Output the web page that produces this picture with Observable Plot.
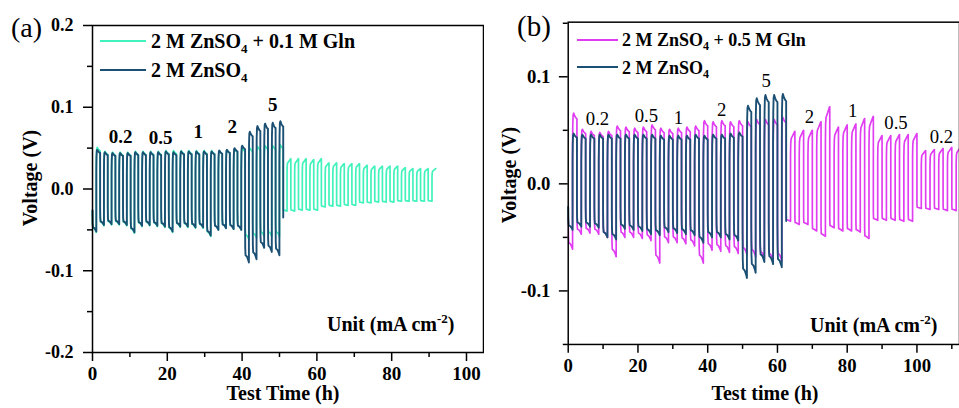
<!DOCTYPE html>
<html><head><meta charset="utf-8">
<script src="https://cdn.jsdelivr.net/npm/d3@7"></script>
<script src="https://cdn.jsdelivr.net/npm/@observablehq/plot@0.6"></script>
<style>
html,body{margin:0;padding:0;background:#fff;overflow:hidden}
#wrap{position:relative;width:959px;height:408px;overflow:hidden;background:#fff}
#pa,#pb,#ov{position:absolute;top:0}
#pa{left:0}#pb{left:480px}#ov{left:0;pointer-events:none}
</style></head><body>
<div id="wrap"><div id="pa"></div><div id="pb"></div><svg id="ov" width="959" height="408"></svg></div>
<script>
const FONT = "Liberation Serif";
const GREEN = "#42f2bc", BLUE = "#1b4f74", MAGENTA = "#e03cf2";

// cycle period (h): half plating, half stripping
const PERIOD_A = 2.04, PERIOD_B = 2.5;

// Panel (a): per-cycle peak (hi) and trough (lo) voltages, V
const blueA_hi = [0.048,0.045,0.044,0.044,0.044, 0.045,0.045,0.045,0.045,0.046, 0.045,0.046,0.046,0.046,0.046, 0.046,0.047,0.048,0.050,0.053, 0.070,0.077,0.080,0.081,0.083];
const blueA_lo = [-0.052,-0.044,-0.043,-0.043,-0.044, -0.053,-0.045,-0.044,-0.045,-0.046, -0.052,-0.046,-0.046,-0.047,-0.047, -0.057,-0.050,-0.048,-0.049,-0.050, -0.090,-0.086,-0.072,-0.077,-0.081, -0.058];
const greenA_hi = [0.051,0.046,0.045,0.045,0.045, 0.046,0.046,0.046,0.046,0.047, 0.047,0.047,0.047,0.047,0.047, 0.047,0.047,0.048,0.049,0.050, 0.050,0.052,0.053,0.053,0.054, 0.037,0.037,0.037,0.036,0.037, 0.032,0.032,0.031,0.031,0.031, 0.029,0.028,0.028,0.028,0.028, 0.026,0.025,0.025,0.025,0.025];
const greenA_lo = [-0.053,-0.045,-0.044,-0.044,-0.045, -0.054,-0.046,-0.045,-0.046,-0.047, -0.053,-0.047,-0.047,-0.048,-0.048, -0.058,-0.050,-0.048,-0.049,-0.050, -0.062,-0.060,-0.058,-0.058,-0.058, -0.027,-0.027,-0.026,-0.026,-0.026, -0.022,-0.021,-0.021,-0.020,-0.020, -0.017,-0.017,-0.016,-0.016,-0.016, -0.015,-0.015,-0.015,-0.015,-0.015];

// Panel (b)
const blueB_hi = [0.047,0.046,0.046,0.046,0.046, 0.046,0.046,0.046,0.046,0.046, 0.045,0.045,0.045,0.045,0.046, 0.045,0.046,0.046,0.047,0.048, 0.073,0.080,0.083,0.083,0.084];
const blueB_lo = [-0.043,-0.040,-0.040,-0.041,-0.050, -0.052,-0.042,-0.043,-0.044,-0.047, -0.048,-0.045,-0.046,-0.047,-0.048, -0.055,-0.050,-0.050,-0.052,-0.053, -0.088,-0.083,-0.073,-0.075,-0.078, -0.058];
const magB_hi = [0.066,0.051,0.049,0.048,0.049, 0.054,0.053,0.052,0.053,0.055, 0.052,0.051,0.052,0.053,0.054, 0.059,0.058,0.059,0.058,0.059, 0.058,0.060,0.060,0.060,0.062, 0.049,0.050,0.050,0.058,0.072, 0.053,0.055,0.056,0.061,0.063, 0.045,0.045,0.046,0.046,0.047, 0.031,0.032,0.033,0.034,0.034];
const magB_lo = [-0.061,-0.047,-0.046,-0.047,-0.050, -0.068,-0.050,-0.050,-0.051,-0.053, -0.074,-0.055,-0.055,-0.056,-0.058, -0.074,-0.062,-0.063,-0.064,-0.065, -0.066,-0.068,-0.070,-0.072,-0.072, -0.035,-0.038,-0.038,-0.044,-0.049, -0.041,-0.044,-0.044,-0.045,-0.051, -0.034,-0.034,-0.034,-0.035,-0.035, -0.023,-0.024,-0.024,-0.025,-0.025];

// half-cycle profile shapes: [fraction of half, fraction of extreme]
const SHAPE_EARLY_POS = [[0,0.45],[0.04,0.8],[0.12,0.97],[0.25,1],[0.5,0.96],[0.8,0.93],[1,0.92]];
const SHAPE_EARLY_NEG = [[0,0.5],[0.04,0.8],[0.12,0.9],[0.5,0.92],[0.85,0.97],[1,1]];
const SHAPE_LATE_POS = [[0,0.55],[0.05,0.78],[0.15,0.86],[0.5,0.92],[0.9,0.99],[1,1]];
const SHAPE_LATE_NEG = [[0,0.8],[0.05,0.95],[0.5,0.97],[1,1]];

// annotations (current density, mA cm-2)
const annA_label = ["0.2","0.5","1","2","5"];
const annA_x = [7.5,18.2,28.3,37.4,48.2];
const annA_y = [0.056,0.055,0.062,0.068,0.096];
const annB_label = ["0.2","0.5","1","2","5","2","1","0.5","0.2"];
const annB_x = [8.4,22.4,31.6,44.0,56.8,69.2,81.6,94.0,107.0];
const annB_y = [0.055,0.058,0.056,0.0635,0.090,0.057,0.0625,0.0515,0.0386];

const xMajorA = [0,20,40,60,80,100], xMinorA = [10,30,50,70,90];
const yMajorA = [-0.2,-0.1,0,0.1,0.2], yMinorA = [-0.15,-0.05,0.05,0.15];
const xMajorB = [0,20,40,60,80,100], xMinorB = [10,30,50,70,90,110];
const yMajorB = [-0.1,0,0.1], yMinorB = [-0.15,-0.05,0.05,0.15];

function buildSeries(hi, lo, period, switchAt) {
  const pts = [], half = period / 2;
  for (let i = 0; i < hi.length; i++) {
    const late = i >= switchAt;
    const neg = late ? SHAPE_LATE_NEG : SHAPE_EARLY_NEG;
    const pos = late ? SHAPE_LATE_POS : SHAPE_EARLY_POS;
    const t0 = i * period;
    for (const [f, r] of neg) pts.push({t: t0 + f * half, v: lo[i] * r});
    for (const [f, r] of pos) pts.push({t: t0 + half + f * half, v: hi[i] * r});
  }
  if (lo.length > hi.length) {
    const i = hi.length;
    pts.push({t: i * period, v: lo[i] * 0.6});
  }
  return pts;
}

const greenA = buildSeries(greenA_hi, greenA_lo, PERIOD_A, 25);
const blueA = buildSeries(blueA_hi, blueA_lo, PERIOD_A, 99);
const magB = buildSeries(magB_hi, magB_lo, PERIOD_B, 25);
const blueB = buildSeries(blueB_hi, blueB_lo, PERIOD_B, 99);
const annA = annA_label.map((l, i) => ({label: l, x: annA_x[i], y: annA_y[i]}));
const annB = annB_label.map((l, i) => ({label: l, x: annB_x[i], y: annB_y[i]}));

function axes(xMaj, xMin, yMaj, yMin, xfs, yfs, ypad) {
  return [
    Plot.frame({stroke: "#000", strokeWidth: 1.5}),
    Plot.axisX({ticks: xMaj, tickSize: 9, tickPadding: 5, tickFormat: d => String(d), fontSize: xfs, fontWeight: "bold", label: null, strokeWidth: 1.5}),
    Plot.axisX({ticks: xMin, tickSize: 5, tickFormat: () => "", label: null, strokeWidth: 1.5}),
    Plot.axisY({ticks: yMaj, tickSize: 9, tickPadding: ypad, tickFormat: d => d.toFixed(1), fontSize: yfs, fontWeight: "bold", label: null, strokeWidth: 1.5}),
    Plot.axisY({ticks: yMin, tickSize: 5, tickFormat: () => "", label: null, strokeWidth: 1.5})
  ];
}

const pa = Plot.plot({
  width: 484, height: 408, marginLeft: 92, marginRight: 1, marginTop: 25, marginBottom: 56,
  style: {background: "transparent", fontFamily: FONT, color: "#000"},
  x: {domain: [0, 104.55]}, y: {domain: [-0.2, 0.2]},
  marks: [
    Plot.line(greenA, {x: "t", y: "v", stroke: GREEN, strokeWidth: 1.7}),
    Plot.line(blueA, {x: "t", y: "v", stroke: BLUE, strokeWidth: 1.9}),
    ...axes(xMajorA, xMinorA, yMajorA, yMinorA, 19, 18, 10),
    Plot.text(annA, {x: "x", y: "y", text: "label", lineAnchor: "bottom", fontSize: 19, fontWeight: "bold", fill: "#000"})
  ]
});
document.getElementById("pa").appendChild(pa);

const pb = Plot.plot({
  width: 486, height: 408, marginLeft: 89, marginRight: 0, marginTop: 22, marginBottom: 59,
  style: {background: "transparent", fontFamily: FONT, color: "#000"},
  x: {domain: [0, 112.2]}, y: {domain: [-0.15, 0.151]},
  marks: [
    Plot.line(magB, {x: "t", y: "v", stroke: MAGENTA, strokeWidth: 1.7, clip: true}),
    Plot.line(blueB, {x: "t", y: "v", stroke: BLUE, strokeWidth: 1.9}),
    ...axes(xMajorB, xMinorB, yMajorB, yMinorB, 19, 19, 9),
    Plot.text(annB, {x: "x", y: "y", text: "label", lineAnchor: "bottom", fontSize: 19, fill: "#000"})
  ]
});
document.getElementById("pb").appendChild(pb);

document.getElementById("ov").innerHTML = `
<g font-family="${FONT}" fill="#000">
<text x="11" y="37" font-size="28">(a)</text>
<text x="517" y="36" font-size="29">(b)</text>
<line x1="100" x2="146" y1="41" y2="41" stroke="${GREEN}" stroke-width="2"/>
<line x1="100" x2="146" y1="70" y2="70" stroke="${BLUE}" stroke-width="2"/>
<text x="151" y="48" font-size="20" font-weight="bold">2 M ZnSO<tspan font-size="13" dy="5">4</tspan><tspan dy="-5"> + 0.1 M Gln</tspan></text>
<text x="151" y="77" font-size="20" font-weight="bold">2 M ZnSO<tspan font-size="13" dy="5">4</tspan></text>
<line x1="577" x2="618" y1="40" y2="40" stroke="${MAGENTA}" stroke-width="2"/>
<line x1="577" x2="618" y1="67" y2="67" stroke="${BLUE}" stroke-width="2"/>
<text x="622" y="46" font-size="18" font-weight="bold">2 M ZnSO<tspan font-size="12" dy="4">4</tspan><tspan dy="-4"> + 0.5 M Gln</tspan></text>
<text x="622" y="74" font-size="18" font-weight="bold">2 M ZnSO<tspan font-size="12" dy="4">4</tspan></text>
<text x="327" y="331" font-size="20" font-weight="bold">Unit (mA cm<tspan font-size="13" dy="-8">-2</tspan><tspan dy="8">)</tspan></text>
<text x="810" y="332" font-size="20" font-weight="bold">Unit (mA cm<tspan font-size="13" dy="-8">-2</tspan><tspan dy="8">)</tspan></text>
<text x="283" y="400" text-anchor="middle" font-size="20" font-weight="bold">Test Time (h)</text>
<text x="765" y="400" text-anchor="middle" font-size="20" font-weight="bold">Test time (h)</text>
<text transform="translate(37,178) rotate(-90)" text-anchor="middle" font-size="20" font-weight="bold">Voltage (V)</text>
<text transform="translate(516,175) rotate(-90)" text-anchor="middle" font-size="20" font-weight="bold">Voltage (V)</text>
</g>`;
</script>
</body></html>
